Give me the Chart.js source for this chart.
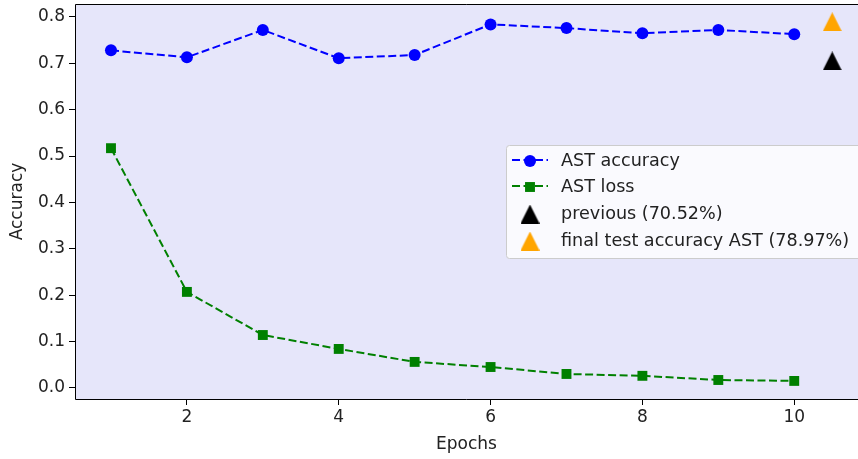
<!DOCTYPE html>
<html>
<head>
<meta charset="utf-8">
<script src="https://cdn.jsdelivr.net/npm/chart.js@4"></script>
<style>
  html, body { margin: 0; padding: 0; background: #fff; }
  #wrap { width: 858px; height: 459px; }
</style>
</head>
<body>
<div id="wrap"><canvas id="chart" width="858" height="459"></canvas></div>
<script>
const epochs = [1, 2, 3, 4, 5, 6, 7, 8, 9, 10];
const astAccuracy = [0.728, 0.713, 0.772, 0.711, 0.718, 0.784, 0.776, 0.765, 0.772, 0.763];
const astLoss = [0.517, 0.207, 0.114, 0.084, 0.056, 0.045, 0.030, 0.026, 0.017, 0.015];
const previousAcc = 0.7052;
const finalTestAcc = 0.7897;
const markerEpoch = 10.5;
const xTicks = [2, 4, 6, 8, 10];
const yTicks = [0.0, 0.1, 0.2, 0.3, 0.4, 0.5, 0.6, 0.7, 0.8];

const FONT = "DejaVu Sans";

const toPoints = (xs, ys) => xs.map((x, i) => ({ x, y: ys[i] }));

// matplotlib-style "^" marker: centred on its bounding box
const triangleMarker = (color, size = 19) => {
  const c = document.createElement("canvas");
  c.width = size;
  c.height = size;
  const g = c.getContext("2d");
  g.fillStyle = color;
  g.beginPath();
  g.moveTo(size / 2, 0);
  g.lineTo(size, size);
  g.lineTo(0, size);
  g.closePath();
  g.fill();
  return c;
};

// plot background + spines (top, left, bottom)
const frame = {
  id: "frame",
  beforeDraw(chart) {
    const { ctx, chartArea: a } = chart;
    ctx.save();
    ctx.fillStyle = "#e6e6fa";
    ctx.fillRect(a.left, a.top, a.right - a.left, a.bottom - a.top);
    ctx.restore();
  },
  afterDraw(chart) {
    const { ctx, chartArea: a } = chart;
    ctx.save();
    ctx.strokeStyle = "#000";
    ctx.lineWidth = 1;
    ctx.beginPath();
    ctx.moveTo(a.right, a.top + 0.5);
    ctx.lineTo(a.left + 0.5, a.top + 0.5);
    ctx.lineTo(a.left + 0.5, a.bottom + 0.5);
    ctx.lineTo(a.right, a.bottom + 0.5);
    ctx.stroke();
    ctx.restore();
  }
};

// matplotlib-like legend box inside the plot
const boxLegend = {
  id: "boxLegend",
  afterDraw(chart) {
    const { ctx } = chart;
    const x0 = 506, y0 = 145, w = 360, h = 113;
    ctx.save();
    ctx.fillStyle = "rgba(255,255,255,0.8)";
    ctx.strokeStyle = "#cccccc";
    ctx.lineWidth = 1;
    ctx.beginPath();
    ctx.roundRect(x0 + 0.5, y0 + 0.5, w, h, 3);
    ctx.fill();
    ctx.stroke();

    const rows = [160, 186, 213, 240];
    chart.data.datasets.forEach((ds, i) => {
      const y = rows[i];
      const cx = 530;
      if (ds.showLine) {
        ctx.strokeStyle = ds.borderColor;
        ctx.lineWidth = 2;
        ctx.setLineDash([8, 3.5]);
        ctx.beginPath();
        ctx.moveTo(512, y);
        ctx.lineTo(548, y);
        ctx.stroke();
        ctx.setLineDash([]);
      }
      ctx.fillStyle = ds.pointBackgroundColor;
      ctx.strokeStyle = ds.pointBackgroundColor;
      Chart.helpers.drawPoint(ctx, {
        pointStyle: ds.pointStyle,
        radius: ds.pointRadius,
        borderWidth: 0
      }, cx, y + 1);
      ctx.fillStyle = "#222";
      ctx.font = `17.6px "${FONT}"`;
      ctx.textBaseline = "middle";
      ctx.fillText(ds.label, 561, y + 1);
    });
    ctx.restore();
  }
};

new Chart(document.getElementById("chart"), {
  type: "scatter",
  data: {
    datasets: [
      {
        label: "AST accuracy",
        data: toPoints(epochs, astAccuracy),
        showLine: true,
        borderColor: "#0000ff",
        borderWidth: 2,
        borderDash: [8, 3.5],
        pointStyle: "circle",
        pointRadius: 6,
        pointBackgroundColor: "#0000ff",
        pointBorderWidth: 0
      },
      {
        label: "AST loss",
        data: toPoints(epochs, astLoss),
        showLine: true,
        borderColor: "#008000",
        borderWidth: 2,
        borderDash: [8, 3.5],
        pointStyle: "rect",
        pointRadius: 7,
        pointBackgroundColor: "#008000",
        pointBorderWidth: 0
      },
      {
        label: "previous (70.52%)",
        data: [{ x: markerEpoch, y: previousAcc }],
        showLine: false,
        pointStyle: triangleMarker("#000000"),
        pointRadius: 10,
        pointBackgroundColor: "#000000",
        pointBorderWidth: 0
      },
      {
        label: "final test accuracy AST (78.97%)",
        data: [{ x: markerEpoch, y: finalTestAcc }],
        showLine: false,
        pointStyle: triangleMarker("#ffa500"),
        pointRadius: 10,
        pointBackgroundColor: "#ffa500",
        pointBorderWidth: 0
      }
    ]
  },
  options: {
    responsive: false,
    animation: false,
    layout: { autoPadding: false, padding: { top: 4, right: 0, left: 0, bottom: 0 } },
    plugins: {
      legend: { display: false },
      tooltip: { enabled: false }
    },
    scales: {
      x: {
        type: "linear",
        min: 0.526,
        max: 10.84,
        afterBuildTicks: (s) => { s.ticks = xTicks.map(v => ({ value: v })); },
        afterFit: (s) => { s.height = 60; s.paddingRight = 0; s.paddingLeft = 0; },
        grid: { display: true, drawOnChartArea: false, drawTicks: true, tickLength: 6, color: "#000" },
        border: { display: false },
        ticks: { color: "#222", font: { family: FONT, size: 17 }, padding: 2, maxRotation: 0 },
        title: { display: true, text: "Epochs", color: "#222", font: { family: FONT, size: 17 }, padding: { top: 0, bottom: 4 } }
      },
      y: {
        min: -0.024,
        max: 0.828,
        afterBuildTicks: (s) => { s.ticks = yTicks.map(v => ({ value: v })); },
        afterFit: (s) => { s.width = 75; s.paddingTop = 0; s.paddingBottom = 0; },
        grid: { display: true, drawOnChartArea: false, drawTicks: true, tickLength: 6, color: "#000" },
        border: { display: false },
        ticks: { color: "#222", font: { family: FONT, size: 17 }, padding: 4, callback: (v) => v.toFixed(1) },
        title: { display: true, text: "Accuracy", color: "#222", font: { family: FONT, size: 17 }, padding: { top: 7, bottom: 4 } }
      }
    }
  },
  plugins: [frame, boxLegend]
});
</script>
</body>
</html>
